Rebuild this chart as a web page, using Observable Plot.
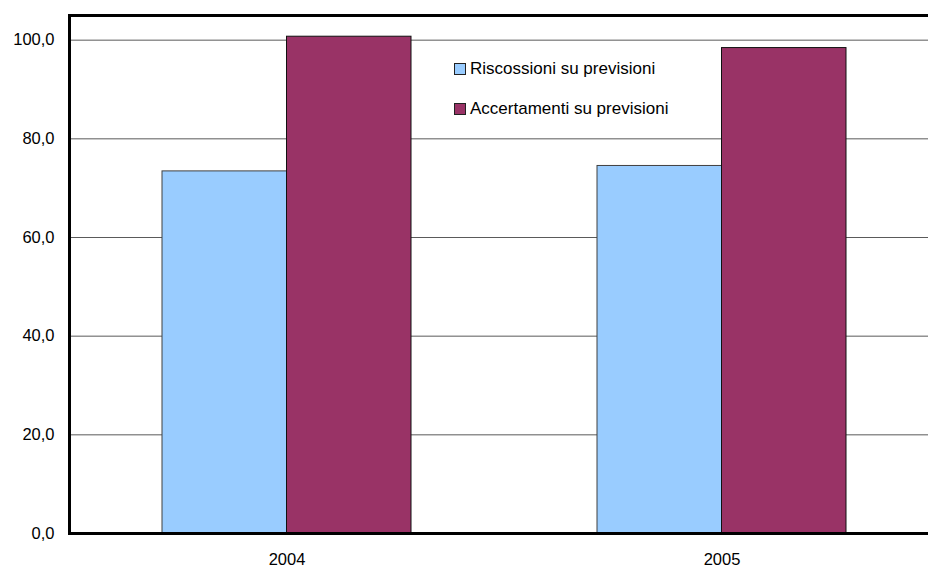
<!DOCTYPE html>
<html>
<head>
<meta charset="utf-8">
<script src="https://cdn.jsdelivr.net/npm/d3@7"></script>
<script src="https://cdn.jsdelivr.net/npm/@observablehq/plot@0.6"></script>
<style>
  html, body { margin: 0; padding: 0; background: #fff; }
  #wrap { position: relative; width: 928px; height: 567px; overflow: hidden; font-family: "Liberation Sans", Arial, sans-serif; }
  .legend { position: absolute; left: 454px; top: 59px; font-size: 17px; color: #000; }
  .legend .row { display: flex; align-items: center; height: 20px; margin-bottom: 20px; white-space: nowrap; }
  .legend .sw { width: 10px; height: 10px; border: 1px solid #222; margin-right: 4px; flex: none; }
</style>
</head>
<body>
<div id="wrap"></div>
<script>
const years = ["2004", "2005"];
const seriesNames = ["Riscossioni su previsioni", "Accertamenti su previsioni"];
const riscossioni = [73.4, 74.5];
const accertamenti = [100.7, 98.4];
const yTicks = [0, 20, 40, 60, 80, 100];
const gridTicks = [20, 40, 60, 80, 100];
const colors = ["#99CCFF", "#993366"];
const strokes = ["#404040", "#111111"];

const dataR = years.map((y, i) => ({year: y, value: riscossioni[i]}));
const dataA = years.map((y, i) => ({year: y, value: accertamenti[i]}));

const fmt = d => d.toFixed(1).replace(".", ",");

const chart = Plot.plot({
  width: 928,
  height: 567,
  marginLeft: 69,
  marginRight: -11,
  marginTop: 15,
  marginBottom: 34,
  style: {fontFamily: "'Liberation Sans', Arial, sans-serif", fontSize: "16.5px", color: "#000", background: "white"},
  x: {domain: years, padding: 0, tickSize: 0, tickPadding: 20, label: null},
  y: {domain: [0, 105], ticks: yTicks, tickFormat: fmt, tickSize: 0, tickPadding: 15, label: null},
  marks: [
    Plot.ruleY(gridTicks, {stroke: "#5a5a5a", strokeWidth: 1}),
    Plot.barY(dataR, {x: "year", y: "value", fill: colors[0], stroke: strokes[0], strokeWidth: 1, insetLeft: 93, insetRight: 217.5}),
    Plot.barY(dataA, {x: "year", y: "value", fill: colors[1], stroke: strokes[1], strokeWidth: 1, insetLeft: 217.5, insetRight: 93}),
    Plot.frame({stroke: "black", strokeWidth: 3})
  ]
});

const wrap = document.getElementById("wrap");
wrap.appendChild(chart);

const legend = document.createElement("div");
legend.className = "legend";
seriesNames.forEach((name, i) => {
  const row = document.createElement("div");
  row.className = "row";
  const sw = document.createElement("span");
  sw.className = "sw";
  sw.style.background = colors[i];
  const label = document.createElement("span");
  label.textContent = name;
  row.appendChild(sw);
  row.appendChild(label);
  legend.appendChild(row);
});
wrap.appendChild(legend);
</script>
</body>
</html>
